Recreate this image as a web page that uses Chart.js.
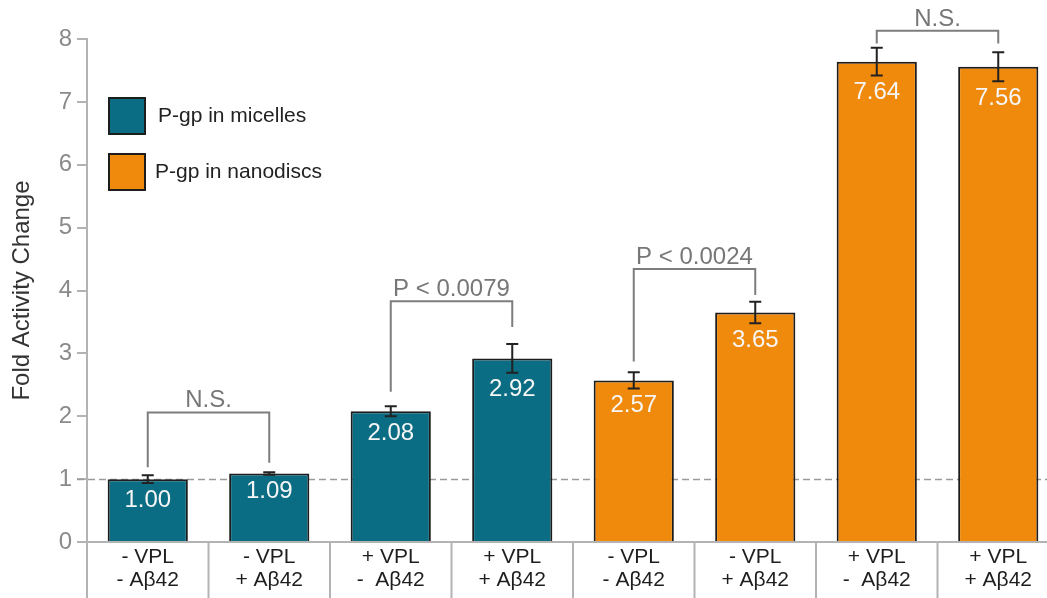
<!DOCTYPE html>
<html><head><meta charset="utf-8">
<script src="https://cdn.jsdelivr.net/npm/chart.js@4.4.0/dist/chart.umd.min.js"></script>
<style>
html,body{margin:0;padding:0;overflow:hidden;background:#fff;width:1047px;height:598px}
#wrap{position:absolute;left:0;top:0;width:1062px;height:598px}
</style>
</head><body><div id="wrap"><canvas id="c" width="1062" height="598"></canvas></div>
<script>
const categories = [
  ["- VPL", "- Aβ42"], ["- VPL", "+ Aβ42"], ["+ VPL", "-  Aβ42"], ["+ VPL", "+ Aβ42"],
  ["- VPL", "- Aβ42"], ["- VPL", "+ Aβ42"], ["+ VPL", "-  Aβ42"], ["+ VPL", "+ Aβ42"]
];
const seriesNames = ["P-gp in micelles", "P-gp in nanodiscs"];
const micelles  = [1.00, 1.09, 2.08, 2.92, null, null, null, null];
const nanodiscs = [null, null, null, null, 2.57, 3.65, 7.64, 7.56];
const errors    = [0.06, 0.02, 0.08, 0.23, 0.13, 0.17, 0.22, 0.23];
const valueLabels = ["1.00", "1.09", "2.08", "2.92", "2.57", "3.65", "7.64", "7.56"];
const yTicks = [0, 1, 2, 3, 4, 5, 6, 7, 8];
const referenceLine = 1;
const bracketFrom  = [0, 2, 4, 6];
const bracketTo    = [1, 3, 5, 7];
const bracketY     = [2.06, 3.83, 4.34, 8.13];
const bracketLegL  = [1.19, 2.39, 2.87, 7.93];
const bracketLegR  = [1.26, 3.42, 3.93, 7.93];
const bracketText  = ["N.S.", "P < 0.0079", "P < 0.0024", "N.S."];

const F = "'Liberation Sans', Arial, Helvetica, sans-serif";
const TEAL = '#0a6d83', ORANGE = '#f08a0c', EDGE = '#1d1d1d', AXIS = '#b3b3b3';

function values(i){ return micelles[i] != null ? micelles[i] : nanodiscs[i]; }

const extras = {
  id: 'extras',
  beforeDatasetsDraw(chart){
    const {ctx, chartArea:a, scales:{y}} = chart;
    const py = Math.round(y.getPixelForValue(referenceLine)) + 0.5;
    ctx.save();
    ctx.strokeStyle = '#9a9a9a'; ctx.lineWidth = 1.5; ctx.setLineDash([7,4]);
    ctx.beginPath(); ctx.moveTo(a.left - 10, py); ctx.lineTo(a.right + 5, py); ctx.stroke();
    ctx.restore();
  },
  afterDatasetsDraw(chart){
    const {ctx, chartArea:a, scales:{x, y}} = chart;
    ctx.save();
    // axis extension and category separators
    ctx.strokeStyle = AXIS; ctx.lineWidth = 2;
    ctx.beginPath(); ctx.moveTo(a.left, a.bottom); ctx.lineTo(a.left, chart.height); ctx.stroke();
    const colW = (a.right - a.left) / categories.length;
    for (let i = 0; i < categories.length; i++) {
      const sx = x.getPixelForValue(i) + colW / 2;
      ctx.beginPath(); ctx.moveTo(sx, a.bottom); ctx.lineTo(sx, chart.height); ctx.stroke();
    }
    // error bars
    ctx.strokeStyle = '#222'; ctx.lineWidth = 2;
    for (let i = 0; i < categories.length; i++) {
      const v = values(i), e = errors[i];
      const cx = x.getPixelForValue(i);
      const t = y.getPixelForValue(v + e), b = y.getPixelForValue(v - e);
      ctx.beginPath();
      ctx.moveTo(cx, t); ctx.lineTo(cx, b);
      ctx.moveTo(cx - 6, t); ctx.lineTo(cx + 6, t);
      ctx.moveTo(cx - 6, b); ctx.lineTo(cx + 6, b);
      ctx.stroke();
    }
    // value labels
    ctx.fillStyle = '#f6f6f6'; ctx.font = '24px ' + F;
    ctx.textAlign = 'center'; ctx.textBaseline = 'middle';
    for (let i = 0; i < categories.length; i++) {
      const v = values(i), e = errors[i];
      ctx.fillText(valueLabels[i], x.getPixelForValue(i), y.getPixelForValue(v - e) + 17);
    }
    // brackets
    ctx.strokeStyle = '#7d7d7d'; ctx.lineWidth = 2;
    ctx.fillStyle = '#777'; ctx.textBaseline = 'alphabetic';
    for (let k = 0; k < bracketText.length; k++) {
      const x1 = x.getPixelForValue(bracketFrom[k]), x2 = x.getPixelForValue(bracketTo[k]);
      const yy = y.getPixelForValue(bracketY[k]);
      ctx.beginPath();
      ctx.moveTo(x1, y.getPixelForValue(bracketLegL[k]));
      ctx.lineTo(x1, yy); ctx.lineTo(x2, yy);
      ctx.lineTo(x2, y.getPixelForValue(bracketLegR[k]));
      ctx.stroke();
      ctx.fillText(bracketText[k], (x1 + x2) / 2, yy - 5);
    }
    // legend
    const ds = chart.data.datasets;
    const boxes = [[108, 97, 158], [108, 153, 155]];
    ctx.font = '21px ' + F; ctx.textAlign = 'left'; ctx.textBaseline = 'middle';
    for (let k = 0; k < ds.length; k++) {
      const [bx, by, tx] = boxes[k];
      ctx.fillStyle = ds[k].backgroundColor; ctx.fillRect(bx, by, 38, 38);
      ctx.strokeStyle = EDGE; ctx.lineWidth = 2; ctx.strokeRect(bx + 1, by + 1, 36, 36);
      ctx.fillStyle = '#222'; ctx.fillText(ds[k].label, tx, by + 19);
    }
    ctx.restore();
  }
};

new Chart(document.getElementById('c'), {
  type: 'bar',
  data: {
    labels: categories,
    datasets: [
      { label: seriesNames[0], data: micelles, backgroundColor: TEAL, borderColor: EDGE, borderWidth: 2, grouped: false, categoryPercentage: 1, barPercentage: 0.66 },
      { label: seriesNames[1], data: nanodiscs, backgroundColor: ORANGE, borderColor: EDGE, borderWidth: 2, grouped: false, categoryPercentage: 1, barPercentage: 0.66 }
    ]
  },
  options: {
    responsive: false, animation: false,
    layout: { padding: { top: 39, right: 3, left: 0, bottom: 0 } },
    plugins: { legend: { display: false }, tooltip: { enabled: false } },
    scales: {
      x: {
        grid: { display: false, drawTicks: false },
        border: { display: true, color: AXIS, width: 2 },
        ticks: { font: { size: 21, family: F, lineHeight: 1.1 }, color: '#1e1e1e', padding: 4, maxRotation: 0, autoSkip: false },
        afterFit(s) { s.height = 56; }
      },
      y: {
        min: 0, max: 8,
        afterBuildTicks(s) { s.ticks = yTicks.map(v => ({ value: v })); },
        ticks: { font: { size: 24, family: F }, color: '#8a8a8a', padding: 5 },
        grid: { drawOnChartArea: false, drawTicks: true, tickLength: 10, color: AXIS, lineWidth: 2 },
        border: { color: AXIS, width: 2 },
        title: { display: true, text: 'Fold Activity Change', font: { size: 24, family: F }, color: '#333', padding: { top: 8, bottom: 0 } },
        afterFit(s) { s.width = 87; }
      }
    }
  },
  plugins: [extras]
});
</script>
</body></html>
